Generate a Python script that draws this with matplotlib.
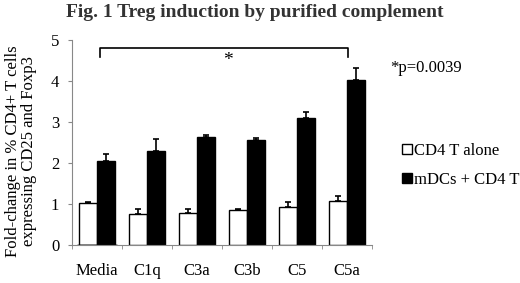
import matplotlib
matplotlib.use("Agg")
import matplotlib.pyplot as plt
import numpy as np

plt.rcParams['font.family'] = ['Liberation Serif', 'DejaVu Serif']

categories = ["Media", "C1q", "C3a", "C3b", "C5", "C5a"]
cd4_alone = [1.02, 0.77, 0.79, 0.85, 0.93, 1.07]
cd4_alone_err = [0.02, 0.11, 0.08, 0.04, 0.11, 0.13]
mdcs_cd4 = [2.06, 2.30, 2.63, 2.56, 3.11, 4.04]
mdcs_cd4_err = [0.16, 0.30, 0.05, 0.06, 0.14, 0.27]

fig = plt.figure(figsize=(5.2, 2.83), dpi=100)
ax = fig.add_axes([0.138, 0.134, 0.577, 0.724])

x = np.arange(len(categories))
w = 0.36
ax.bar(x - w / 2, cd4_alone, w, color="white", edgecolor="black", linewidth=1.0,
       yerr=[np.zeros(len(x)), cd4_alone_err], error_kw=dict(ecolor="black", elinewidth=1.2, capsize=2.5, capthick=1.2))
ax.bar(x + w / 2, mdcs_cd4, w, color="black", edgecolor="black", linewidth=1.0,
       yerr=[np.zeros(len(x)), mdcs_cd4_err], error_kw=dict(ecolor="black", elinewidth=1.2, capsize=2.5, capthick=1.2))

ax.set_xlim(-0.5, len(categories) - 0.5)
ax.set_ylim(0, 5)
ax.set_yticks([0, 1, 2, 3, 4, 5])
ax.set_xticks(x)
ax.set_xticklabels(categories, fontsize=12)
ax.set_xticks(np.arange(-0.5, len(categories)), minor=True)
ax.tick_params(axis="x", which="major", length=0, pad=13)
ax.tick_params(axis="x", which="minor", length=3, color="#888888")
ax.tick_params(axis="y", length=3, color="#888888", labelsize=12, pad=6)
for s in ["top", "right"]:
    ax.spines[s].set_visible(False)
for s in ["left", "bottom"]:
    ax.spines[s].set_color("#888888")

# significance bracket
x0, x1 = x[0] + 0.06, x[-1] + 0.02
ax.plot([x0, x0, x1, x1], [4.6, 4.8, 4.8, 4.6], color="black", lw=1.2, clip_on=False)
ax.text(2.62, 4.5, "*", ha="center", va="center", fontsize=14)

ax.set_ylabel("Fold-change in % CD4+ T cells\nexpressing CD25 and Foxp3", fontsize=12, linespacing=1.0)
ax.yaxis.set_label_coords(-0.115, 0.46)

fig.text(0.49, 0.985, "Fig. 1 Treg induction by purified complement", ha="center", va="top",
         fontsize=14, fontweight="bold", color="#333333")
fig.text(0.75, 0.76, "*p=0.0039", ha="left", va="center", fontsize=12)

ax.bar([0], [0], color="white", edgecolor="black", label="CD4 T alone")
ax.bar([0], [0], color="black", edgecolor="black", label="mDCs + CD4 T")
h, l = ax.get_legend_handles_labels()
fig.legend(h[-2:], l[-2:], loc="center left", bbox_to_anchor=(0.745, 0.415), frameon=False,
           fontsize=12, handlelength=0.55, handleheight=0.55, handletextpad=0.15, labelspacing=0.75)

fig.savefig("out.png", dpi=100)
